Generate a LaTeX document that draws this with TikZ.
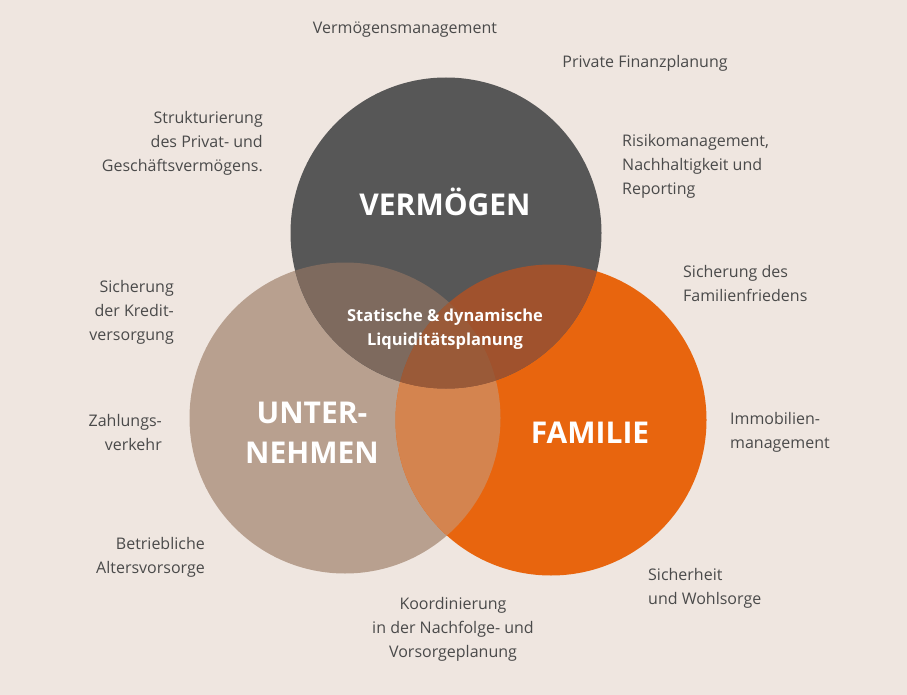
\documentclass[tikz,border=0pt]{standalone}
\usepackage{fontspec}
\setmainfont{Open Sans}
\definecolor{bg}{HTML}{EFE6E0}
\definecolor{txt}{HTML}{4A4A4A}
\definecolor{cv}{HTML}{575757}
\definecolor{cu}{HTML}{B8A08F}
\definecolor{cf}{HTML}{E8650E}
\definecolor{cvu}{HTML}{7E6A5E}
\definecolor{cvf}{HTML}{A0522D}
\definecolor{cuf}{HTML}{D4844F}
\definecolor{call}{HTML}{9A5A38}
\begin{document}
\begin{tikzpicture}[x=1pt,y=-1pt,
  lbl/.style={text=txt,font=\fontsize{16}{24}\selectfont,inner sep=0pt},
  big/.style={text=white,font=\fontsize{30}{40}\selectfont\bfseries,inner sep=0pt,align=center},
  mid/.style={text=white,font=\fontsize{16.5}{24}\selectfont\bfseries,inner sep=0pt,align=center}]
\fill[bg] (0,0) rectangle (907,695);
\useasboundingbox (0,0) rectangle (907,695);
\coordinate (V) at (446,233);
\coordinate (U) at (345,418);
\coordinate (F) at (551,420);
\def\r{155.5}
\fill[cu] (U) circle (\r);
\fill[cf] (F) circle (\r);
\fill[cv] (V) circle (\r);
\begin{scope}\clip (U) circle (\r); \fill[cuf] (F) circle (\r); \fill[cvu] (V) circle (\r); \end{scope}
\begin{scope}\clip (F) circle (\r); \fill[cvf] (V) circle (\r);
  \clip (U) circle (\r); \fill[call] (V) circle (\r); \end{scope}
\node[big] (nv) at (445,202) {VERMÖGEN};
\node[big] (nu) at (312,433) {UNTER-\\NEHMEN};
\node[big] (nf) at (590,433) {FAMILIE};
\node[mid] (nl) at (445,329) {Statische \& dynamische\\Liquiditätsplanung};
\node[lbl] (a1) at (405,30) {Vermögensmanagement};
\node[lbl] (a2) at (645,63) {Private Finanzplanung};
\node[lbl,anchor=east,align=right] (a3) at (263,143) {Strukturierung\\des Privat- und\\Geschäftsvermögens.};
\node[lbl,anchor=west,align=left] (a4) at (622,166) {Risikomanagement,\\Nachhaltigkeit und\\Reporting};
\node[lbl,anchor=west,align=left] (a5) at (683,283) {Sicherung des\\Familienfriedens};
\node[lbl,anchor=east,align=right] (a6) at (174,312) {Sicherung\\der Kredit-\\versorgung};
\node[lbl,anchor=east,align=right] (a7) at (162,432) {Zahlungs-\\verkehr};
\node[lbl,anchor=west,align=left] (a8) at (730,432) {Immobilien-\\management};
\node[lbl,anchor=east,align=right] (a9) at (205,557) {Betriebliche\\Altersvorsorge};
\node[lbl,anchor=west,align=left] (a10) at (648,588) {Sicherheit\\und Wohlsorge};
\node[lbl,align=center] (a11) at (453,629) {Koordinierung\\in der Nachfolge- und\\Vorsorgeplanung};
\end{tikzpicture}
\end{document}
